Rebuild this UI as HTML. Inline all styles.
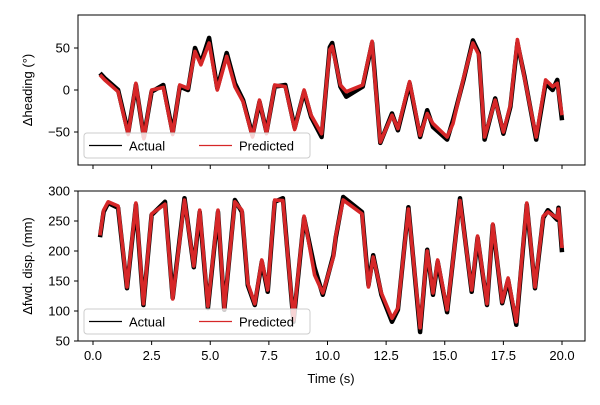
<!DOCTYPE html>
<html><head><meta charset="utf-8"><style>
body{margin:0;background:#fff}
svg{font-family:"Liberation Sans","DejaVu Sans",sans-serif}
</style></head><body>
<svg id="c" width="600" height="400" viewBox="0 0 600 400" xmlns="http://www.w3.org/2000/svg"></svg>
<script>
const xTicks=[0,2.5,5,7.5,10,12.5,15,17.5,20];
const xTickLabels=["0.0","2.5","5.0","7.5","10.0","12.5","15.0","17.5","20.0"];
const topTicks=[50,0,-50];
const botTicks=[50,100,150,200,250,300];
const headT=[0.3,0.5,1.07,1.5,1.83,2.17,2.5,3.0,3.4,3.7,4.05,4.35,4.6,4.95,5.3,5.7,6.05,6.4,6.8,7.1,7.4,7.75,8.2,8.6,9.0,9.3,9.75,10.1,10.2,10.55,10.8,11.5,11.9,12.0,12.25,12.75,13.0,13.5,13.95,14.25,14.5,15.1,15.35,15.8,16.2,16.45,16.7,17.15,17.5,17.8,18.1,18.4,18.9,19.3,19.6,19.8,20.0];
const headActual=[20,14,0,-51,6,-56,-2,6,-51,4,0,50,32,62,2,44,8,-12,-54,-14,-50,4,6,-45,-2,-32,-56,51,56,4,-8,4,56,24,-63,-28,-48,8,-56,-24,-44,-59,-36,12,59,44,-59,-10,-52,-20,56,16,-59,8,0,12,-36];
const headPred=[18,12,-2,-53,8,-58,0,3,-53,6,2,46,30,56,0,40,4,-14,-56,-12,-52,6,4,-47,0,-30,-52,48,52,6,-2,6,58,20,-62,-30,-46,10,-54,-28,-40,-56,-40,14,56,42,-56,-12,-50,-18,60,14,-56,12,4,8,-30];
const dispT=[0.3,0.45,0.65,1.07,1.45,1.83,2.15,2.5,3.07,3.4,3.9,4.3,4.55,4.9,5.33,5.6,6.05,6.35,6.6,6.9,7.2,7.45,7.75,8.1,8.55,9.0,9.45,9.8,10.25,10.35,10.67,11.47,11.75,11.95,12.3,12.75,13.0,13.45,13.95,14.25,14.5,14.7,15.1,15.65,16.15,16.4,16.8,17.05,17.45,17.7,18.05,18.5,18.85,19.2,19.4,19.8,19.85,20.0];
const dispActual=[223,265,280,272,138,277,110,260,282,122,288,173,265,105,265,102,285,265,143,110,182,132,282,288,82,255,172,127,193,222,290,265,143,193,127,82,102,273,65,202,127,182,98,288,132,222,110,243,113,152,77,277,138,255,268,252,272,198];
const dispPred=[226,268,282,275,140,280,112,262,278,120,285,175,268,108,268,104,282,268,146,112,185,135,285,284,85,258,160,130,190,225,285,262,140,190,130,88,105,270,72,200,130,185,102,284,135,225,112,245,115,155,82,280,140,258,265,255,270,205];

const NS="http://www.w3.org/2000/svg";
const svg=document.getElementById('c');
const L=78,R=585;
const xs=t=>93+t*(562-93)/20;
const yTop=v=>90-v*0.84;
const yBot=v=>341-(v-50)*0.6;
function mk(tag,attrs,parent){const e=document.createElementNS(NS,tag);for(const k in attrs)e.setAttribute(k,attrs[k]);(parent||svg).appendChild(e);return e;}
function txt(s,attrs){const e=mk('text',attrs);e.textContent=s;return e;}

function panel(name,y0,y1,yf,ticks,tArr,aArr,pArr,ylabel,showX,legY){
  const g=mk('g',{});
  
  
  const pa=tArr.map((t,i)=>xs(t).toFixed(1)+','+yf(aArr[i]).toFixed(1)).join(' ');
  const pp=tArr.map((t,i)=>xs(t).toFixed(1)+','+yf(pArr[i]).toFixed(1)).join(' ');
  const la=mk('polyline',{points:pa,fill:'none',stroke:'#000','stroke-width':4.5,'stroke-linejoin':'round'},g);
  
  
  const lp=mk('polyline',{points:pp,fill:'none',stroke:'#d62728','stroke-width':3.6,'stroke-linejoin':'round'},g);
  
  
  const fr=mk('rect',{x:L,y:y0,width:R-L,height:y1-y0,fill:'none',stroke:'#000','stroke-width':1},g);
  
  
  ticks.forEach(v=>{
    const y=yf(v);
    mk('line',{x1:L-4,x2:L,y1:y,y2:y,stroke:'#000'},g);
    const t=txt(String(v).replace('-','\u2212'),{x:L-8,y:y+4.5,'text-anchor':'end','font-size':13});
    
    
  });
  xTicks.forEach((v,i)=>{
    const x=xs(v);
    mk('line',{x1:x,x2:x,y1:y1,y2:y1+4,stroke:'#000'},g);
    if(showX){
      const t=txt(xTickLabels[i],{x:x,y:y1+19,'text-anchor':'middle','font-size':13});
      
      
    }
  });
  const yl=txt(ylabel,{x:0,y:0,'text-anchor':'middle','font-size':13,transform:`translate(32,${(y0+y1)/2}) rotate(-90)`});
  
  
  const lg=mk('g',{});
  
  
  mk('rect',{x:84,y:legY,width:226,height:25,rx:3,fill:'#fff','fill-opacity':0.8,stroke:'#ccc'},lg);
  mk('line',{x1:89,x2:122,y1:legY+12.5,y2:legY+12.5,stroke:'#000','stroke-width':1.3},lg);
  const a=mk('text',{x:129,y:legY+17.5,'font-size':13},lg);a.textContent='Actual';
  mk('line',{x1:199,x2:232,y1:legY+12.5,y2:legY+12.5,stroke:'#d62728','stroke-width':1.3},lg);
  const p=mk('text',{x:239,y:legY+17.5,'font-size':13},lg);p.textContent='Predicted';
}
panel('heading',15,165,yTop,topTicks,headT,headActual,headPred,'Δheading (°)',false,133);
panel('displacement',191,341,yBot,botTicks,dispT,dispActual,dispPred,'Δfwd. disp. (mm)',true,309);
const xt=txt('Time (s)',{x:331,y:383,'text-anchor':'middle','font-size':13});


</script>
</body></html>
